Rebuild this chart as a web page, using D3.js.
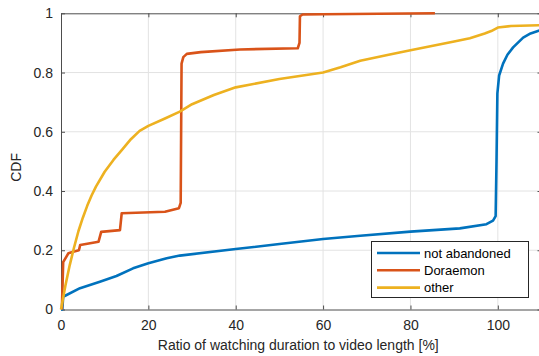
<!DOCTYPE html>
<html>
  <head>
    <meta charset="utf-8">
    <title></title>
  </head>
  <body style="margin:0;background:#fff">
  <style media="screen">
    svg { display:block; font-family:"Liberation Sans", Arial, sans-serif; }
    .tick text { fill:#262626; font-size:14px; }
    .grid line { stroke:#e3e3e3; stroke-width:1; }
    .curve { fill:none; stroke-width:2.6; stroke-linejoin:round; }
  </style>

<svg id="chart1" width="539" height="356"></svg>
    <script src="https://d3js.org/d3.v7.min.js"></script>
    <script type="text/javascript">
    // CDF points: [ratio %, cdf]
    var notAbandoned = [[0,0],[0.3,0],[0.5,0.043],[4.35,0.072],[8.9,0.094],[12.7,0.113],[16.5,0.139],[20,0.156],
      [24.2,0.173],[27.2,0.182],[40,0.204],[50,0.221],[60,0.238],[68.5,0.249],[80,0.263],[91.3,0.274],
      [97.4,0.288],[98.9,0.300],[99.5,0.315],[99.7,0.50],[99.9,0.73],[100.3,0.79],[101.2,0.83],
      [102.2,0.86],[103.5,0.885],[105.8,0.918],[107.5,0.932],[110,0.944]];
    var doraemon = [[0.2,0],[0.5,0.16],[1.7,0.19],[2.8,0.195],[4.1,0.2],[4.4,0.218],[8.6,0.229],[9.2,0.262],
      [13.5,0.268],[13.9,0.325],[23.8,0.33],[27.0,0.342],[27.4,0.36],[27.5,0.6],[27.6,0.83],[28.0,0.852],
      [28.8,0.863],[32,0.869],[41,0.878],[54.2,0.882],[54.6,0.9],[54.7,0.99],[55.3,0.996],[60,0.997],[85.6,1.0]];
    var other = [[0,0],[1,0.08],[2,0.15],[3,0.21],[4,0.265],[5,0.31],[6,0.35],[7,0.385],[8,0.415],
      [10,0.465],[12,0.505],[14,0.54],[16,0.575],[18,0.603],[20,0.62],[23.8,0.645],[27.2,0.668],
      [30,0.693],[35,0.724],[40,0.75],[50,0.778],[60,0.80],[64,0.818],[68.5,0.84],[75,0.86],[80,0.875],
      [90,0.905],[93.6,0.916],[97,0.932],[98.5,0.94],[100,0.952],[103,0.957],[110,0.96]];

    var seriesNames = ['not abandoned','Doraemon','other'];
    var seriesData = [notAbandoned, doraemon, other];
    var colors = ['#0072BD','#D95319','#EDB120'];
    var xTicks = [0,20,40,60,80,100];
    var yTicks = [0,0.2,0.4,0.6,0.8,1];

    var margin = {top:13.3, left:61, bottom:46.5, right:-2.5};
    var W = 539, H = 356;
    var svg = d3.select('#chart1');

    var x = d3.scaleLinear().domain([0,110]).range([margin.left, W - margin.right]);
    var y = d3.scaleLinear().domain([0,1]).range([H - margin.bottom, margin.top]);

    // grid
    svg.append('g').attr('class','grid')
      .selectAll('line.gx').data(xTicks.slice(1)).enter().append('line')
      .attr('x1', d=>x(d)).attr('x2', d=>x(d)).attr('y1', y(0)).attr('y2', y(1));
    svg.append('g').attr('class','grid')
      .selectAll('line.gy').data(yTicks.slice(1,-1)).enter().append('line')
      .attr('x1', x(0)).attr('x2', x(110)).attr('y1', d=>y(d)).attr('y2', d=>y(d));

    // axes, ticks pointing inward
    var fmt = d => d === 1 ? '1' : d3.format('')(d);
    var axB = svg.append('g').attr('transform','translate(0,'+y(0)+')')
      .call(d3.axisBottom(x).tickValues(xTicks).tickSizeInner(-4).tickSizeOuter(0).tickPadding(8));
    var axL = svg.append('g').attr('transform','translate('+x(0)+',0)')
      .call(d3.axisLeft(y).tickValues(yTicks).tickFormat(fmt).tickSizeInner(-4).tickSizeOuter(0).tickPadding(8));
    var axT = svg.append('g').attr('transform','translate(0,'+y(1)+')')
      .call(d3.axisTop(x).tickValues(xTicks).tickSizeInner(-4).tickSizeOuter(0).tickFormat(''));
    var axR = svg.append('g').attr('transform','translate('+x(110)+',0)')
      .call(d3.axisRight(y).tickValues(yTicks).tickSizeInner(-4).tickSizeOuter(0).tickFormat(''));
    [axB, axL, axT, axR].forEach(function(a){
      a.selectAll('path,line').attr('stroke','#4d4d4d');
      a.selectAll('text').attr('font-size','14px').attr('fill','#262626');
    });
    axB.selectAll('text').attr('dy','0.9em');

    // curves
    var line = d3.line().x(d=>x(d[0])).y(d=>y(d[1]));
    svg.append('g').selectAll('path.curve').data(seriesData).enter().append('path')
      .attr('class','curve')
      .attr('stroke', (d,i)=>colors[i])
      .attr('d', line);

    // labels
    svg.append('text').attr('x', (x(0)+x(110))/2 - 3).attr('y', 350)
      .attr('text-anchor','middle').attr('font-size','14px').attr('fill','#262626')
      .text('Ratio of watching duration to video length [%]');
    svg.append('text').attr('transform','translate(21,'+(y(0.5)+6)+') rotate(-90)')
      .attr('text-anchor','middle').attr('font-size','14px').attr('fill','#262626')
      .text('CDF');

    // legend
    var lg = svg.append('g').attr('transform','translate(371.5,241.5)');
    lg.append('rect').attr('width',157).attr('height',56)
      .attr('fill','#fff').attr('stroke','#262626').attr('stroke-width',1);
    var rows = lg.selectAll('g.row').data(seriesNames).enter().append('g')
      .attr('transform', (d,i)=>'translate(0,'+(11.5 + i*17.3)+')');
    rows.append('line').attr('x1',5.5).attr('x2',48.5).attr('y1',0).attr('y2',0)
      .attr('stroke', (d,i)=>colors[i]).attr('stroke-width',2.6);
    rows.append('text').attr('x',52.5).attr('y',0).attr('dy','0.35em')
      .attr('font-size','13px').attr('fill','#000').text(d=>d);
    </script>
  </body>
</html>
